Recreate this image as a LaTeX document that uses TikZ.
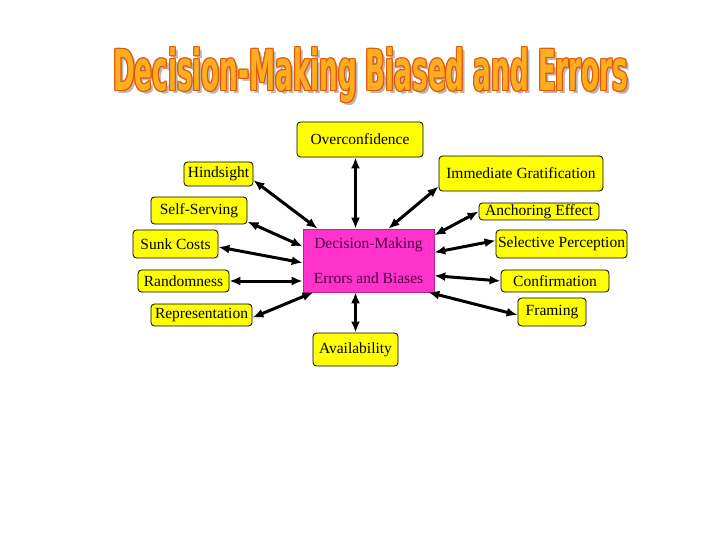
\documentclass[tikz,border=0pt]{standalone}
\usepackage{fontspec}
\setmainfont{Liberation Serif}
\newfontfamily\titlefont{DejaVu Sans Condensed}
\usepackage{graphicx}
\usepackage{xcolor}
\usetikzlibrary{arrows.meta,calc}

\definecolor{boxyellow}{HTML}{FFFF00}
\definecolor{dmpink}{HTML}{FF33CC}
\definecolor{dmtext}{HTML}{4A0040}
\definecolor{titlefill}{HTML}{FFAE22}
\definecolor{titleline}{HTML}{E0580A}
\definecolor{titleshadow}{HTML}{BDB5AD}

\newcommand{\titletext}{\resizebox*{515pt}{55pt}{\titlefont\bfseries Decision-Making Biased and Errors}}

\begin{document}
\begin{tikzpicture}[
    x=1pt, y=-1pt,
    font=\fontsize{15.5}{18}\selectfont,
    bias/.style={draw, fill=boxyellow, rounded corners=3.5pt, line width=0.8pt, inner sep=1pt},
    core/.style={draw=dmpink!70!black, line width=0.6pt, fill=dmpink, text=dmtext, align=center, inner sep=0pt},
    titlecopy/.style={anchor=north west, inner sep=0pt},
    arrow/.style={{Latex[length=11pt,width=9pt]}-{Latex[length=11pt,width=9pt]}, line width=3pt}
]
    \fill[white] (0,0) rectangle (720,540);
    \useasboundingbox (0,0) rectangle (720,540);

    % title: shadow, outline, fill
    \node[titlecopy, text=titleshadow] (tshadow) at (116,50) {\titletext};
    \foreach \dx/\dy [count=\i] in {-1/0, 1/0, 0/-1, 0/1, -1/-1, 1/1, -1/1, 1/-1}
        \node[titlecopy, text=titleline] (tline\i) at (113+\dx,47+\dy) {\titletext};
    \node[titlecopy, text=titlefill] (title) at (113,47) {\titletext};

    % centre box
    \node[core, minimum width=131pt, minimum height=63pt] (dm) at (368.5,260.5) {Decision-Making\\[17pt]Errors and Biases};

    % biases
    \node[bias, minimum width=126pt, minimum height=35pt] (over) at (360,139.5) {Overconfidence};
    \node[bias, minimum width=69pt, minimum height=24pt] (hind) at (218.5,174) {Hindsight};
    \node[bias, minimum width=96pt, minimum height=27pt] (self) at (199,210.5) {Self-Serving};
    \node[bias, minimum width=164pt, minimum height=35pt] (immed) at (521,173.5) {Immediate Gratification};
    \node[bias, minimum width=120pt, minimum height=17pt] (anch) at (539,211.5) {Anchoring Effect};
    \node[bias, minimum width=131pt, minimum height=28pt] (select) at (561.5,244) {Selective Perception};
    \node[bias, minimum width=85pt, minimum height=28pt] (sunk) at (175.5,244) {Sunk Costs};
    \node[bias, minimum width=91pt, minimum height=22pt] (random) at (183.5,281) {Randomness};
    \node[bias, minimum width=101pt, minimum height=22pt] (repres) at (201.5,315) {Representation};
    \node[bias, minimum width=108pt, minimum height=22pt] (confirm) at (555,281) {Confirmation};
    \node[bias, minimum width=68pt, minimum height=28pt] (framing) at (552,312) {Framing};
    \node[bias, minimum width=85pt, minimum height=33pt] (avail) at (355.5,349.5) {Availability};

    % connectors
    \draw[arrow] (over.south -| avail.north) -- (avail.north |- dm.north);
    \draw[arrow] (hind.-10) -- (dm.148);
    \draw[arrow] (immed.189) -- (dm.58);
    \draw[arrow] (self.-13) -- (dm.168);
    \draw[arrow] (sunk.-4) -- (dm.182);
    \draw[arrow] (random.east) -- (random.east -| dm.west);
    \draw[arrow] (repres.-3) -- (dm.210);
    \draw[arrow] (anch.west) -- (dm.21);
    \draw[arrow] (select.177) -- (dm.7);
    \draw[arrow] (confirm.west) -- (dm.-13);
    \draw[arrow] (framing.185) -- (dm.-28);
    \draw[arrow] (avail.north) -- (avail.north |- dm.south);
\end{tikzpicture}
\end{document}
